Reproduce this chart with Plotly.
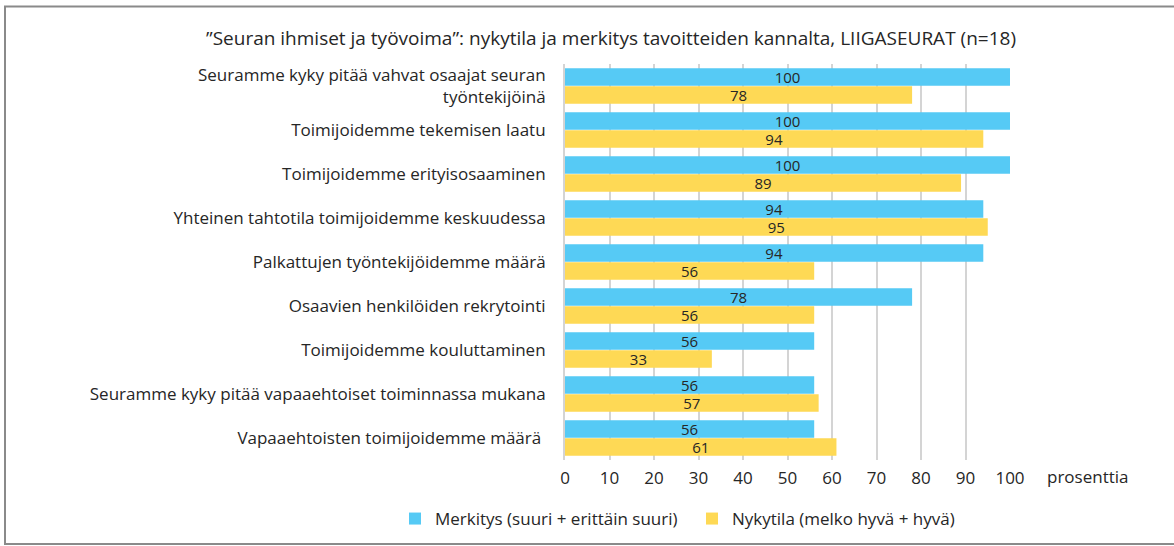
import plotly.graph_objects as go

categories = [
    "Seuramme kyky pitää vahvat osaajat seuran<br>työntekijöinä",
    "Toimijoidemme tekemisen laatu",
    "Toimijoidemme erityisosaaminen",
    "Yhteinen tahtotila toimijoidemme keskuudessa",
    "Palkattujen työntekijöidemme määrä",
    "Osaavien henkilöiden rekrytointi",
    "Toimijoidemme kouluttaminen",
    "Seuramme kyky pitää vapaaehtoiset toiminnassa mukana",
    "Vapaaehtoisten toimijoidemme määrä ",
]
merkitys = [100, 100, 100, 94, 94, 78, 56, 56, 56]
nykytila = [78, 94, 89, 95, 56, 56, 33, 57, 61]
x_ticks = [0, 10, 20, 30, 40, 50, 60, 70, 80, 90, 100]

series_names = ["Merkitys (suuri + erittäin suuri)", "Nykytila (melko hyvä + hyvä)"]
BLUE = "#56CAF5"
YELLOW = "#FED955"
TEXT = "#262626"
FONT = "Open Sans"

W, H = 1174, 546
ML, MR, MT, MB = 565, 164, 64, 76
pw, ph = W - ML - MR, H - MT - MB

fig = go.Figure()
legend_x = [395, 692]
for i, (name, vals, col) in enumerate([(series_names[0], merkitys, BLUE),
                                       (series_names[1], nykytila, YELLOW)]):
    fig.add_trace(go.Bar(
        y=categories, x=vals, name=name, orientation="h",
        marker=dict(color=col, line=dict(width=0)),
        text=[str(v) for v in vals], textposition="inside", textangle=0,
        insidetextanchor="middle", constraintext="none",
        textfont=dict(family=FONT, size=15, color=TEXT),
        cliponaxis=False,
        legend="legend" if i == 0 else "legend2",
    ))

# frame around the chart (top and left edges visible)
fig.add_shape(type="rect", xref="paper", yref="paper",
              x0=(5 - ML) / pw, x1=(W + 10 - ML) / pw,
              y0=(H - MB - (H + 10)) / ph, y1=(H - MB - 5) / ph,
              line=dict(color="#8a8a8a", width=2), fillcolor="rgba(0,0,0,0)", layer="below")

fig.add_annotation(text="prosenttia", xref="paper", yref="paper",
                   x=(1088 - ML) / pw, y=-(487 - (H - MB)) / ph,
                   xanchor="center", yanchor="middle", showarrow=False,
                   font=dict(family=FONT, size=17, color=TEXT))

legend_style = dict(orientation="h", xref="container", yref="container",
                    y=1 - 519 / H, xanchor="left", yanchor="middle",
                    font=dict(family=FONT, size=17, color=TEXT),
                    itemwidth=30, bgcolor="rgba(0,0,0,0)")

fig.update_layout(
    width=W, height=H,
    margin=dict(l=ML, r=MR, t=MT, b=MB),
    paper_bgcolor="white", plot_bgcolor="white",
    barmode="group", bargap=0.18, bargroupgap=0.04,
    font=dict(family=FONT, color=TEXT),
    title=dict(text="”Seuran ihmiset ja työvoima”: nykytila ja merkitys tavoitteiden kannalta, LIIGASEURAT (n=18)",
               xref="container", yref="container", x=611 / W, y=1 - 38 / H,
               xanchor="center", yanchor="middle",
               font=dict(family=FONT, size=19, color=TEXT)),
    legend=dict(x=legend_x[0] / W, **legend_style),
    legend2=dict(x=legend_x[1] / W, **legend_style),
    showlegend=True,
)
fig.update_xaxes(range=[0, 100], tickvals=x_ticks, showgrid=True,
                 gridcolor="#d4d4d4", gridwidth=2, zeroline=False,
                 showline=False, ticks="", ticklabelstandoff=6,
                 tickfont=dict(family=FONT, size=17, color=TEXT))
fig.update_yaxes(autorange="reversed", showgrid=False, ticks="",
                 showline=True, linecolor="#d4d4d4", linewidth=2,
                 ticklabelstandoff=14,
                 tickfont=dict(family=FONT, size=17, color=TEXT))

fig.write_html("out.html")
